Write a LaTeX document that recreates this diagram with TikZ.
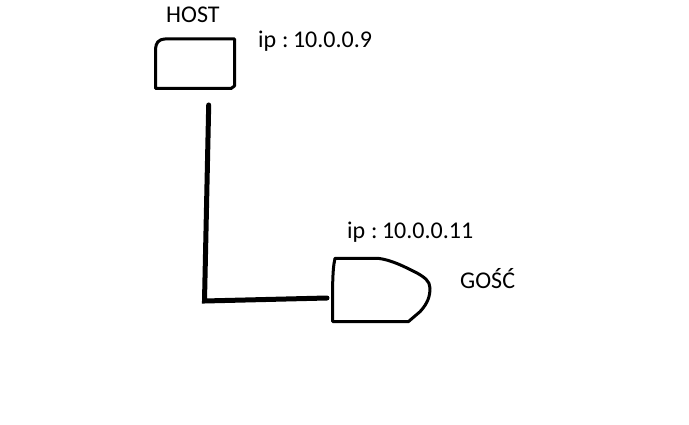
\documentclass[tikz,border=0pt]{standalone}
\usepackage{fontspec}
\setmainfont{Carlito}
\begin{document}
\begin{tikzpicture}[x=1pt,y=-1pt,
  lbl/.style={anchor=base west,inner sep=0pt,font=\fontsize{24}{28}\selectfont},
  outline/.style={draw=black,line width=3pt,line join=round,line cap=round},
  wire/.style={draw=black,line width=5pt,line cap=round}]
\useasboundingbox (0,0) rectangle (689,425);
% host box
\draw[outline] (155.5,49) -- (155.5,88.5) -- (231,88.5) -- (234.5,86) -- (234.5,39) -- (165,39)
  .. controls (158,39.5) and (156,43) .. (155.5,49) -- cycle;
% guest shape
\draw[outline] (335,258.3) -- (378,258.3) .. controls (392,260) and (405,267) .. (417,273)
  .. controls (424,277) and (430,281) .. (430,288) .. controls (430,296) and (428,303) .. (420,311.7)
  -- (408.3,321.7) -- (332.7,321.7) -- (332.7,283) .. controls (333,272) and (333.5,265) .. (335,258.3) -- cycle;
% connection points
\coordinate (hostport) at (208.7,105);
\coordinate (corner) at (204.5,301);
\coordinate (guestport) at (327,298);
\draw[wire] (hostport) -- (corner) -- (guestport);
% labels
\node[lbl] (hostlbl) at (166,23) {HOST};
\node[lbl] (hostip) at (258,48) {ip\kern0.5pt\ :\kern-1pt\ 10.0.0.9};
\node[lbl] (guestip) at (347,239) {ip\kern0.5pt\ :\kern-1pt\ 10.0.0.11};
\node[lbl] (guestlbl) at (460,288) {GOŚĆ};
\end{tikzpicture}
\end{document}
